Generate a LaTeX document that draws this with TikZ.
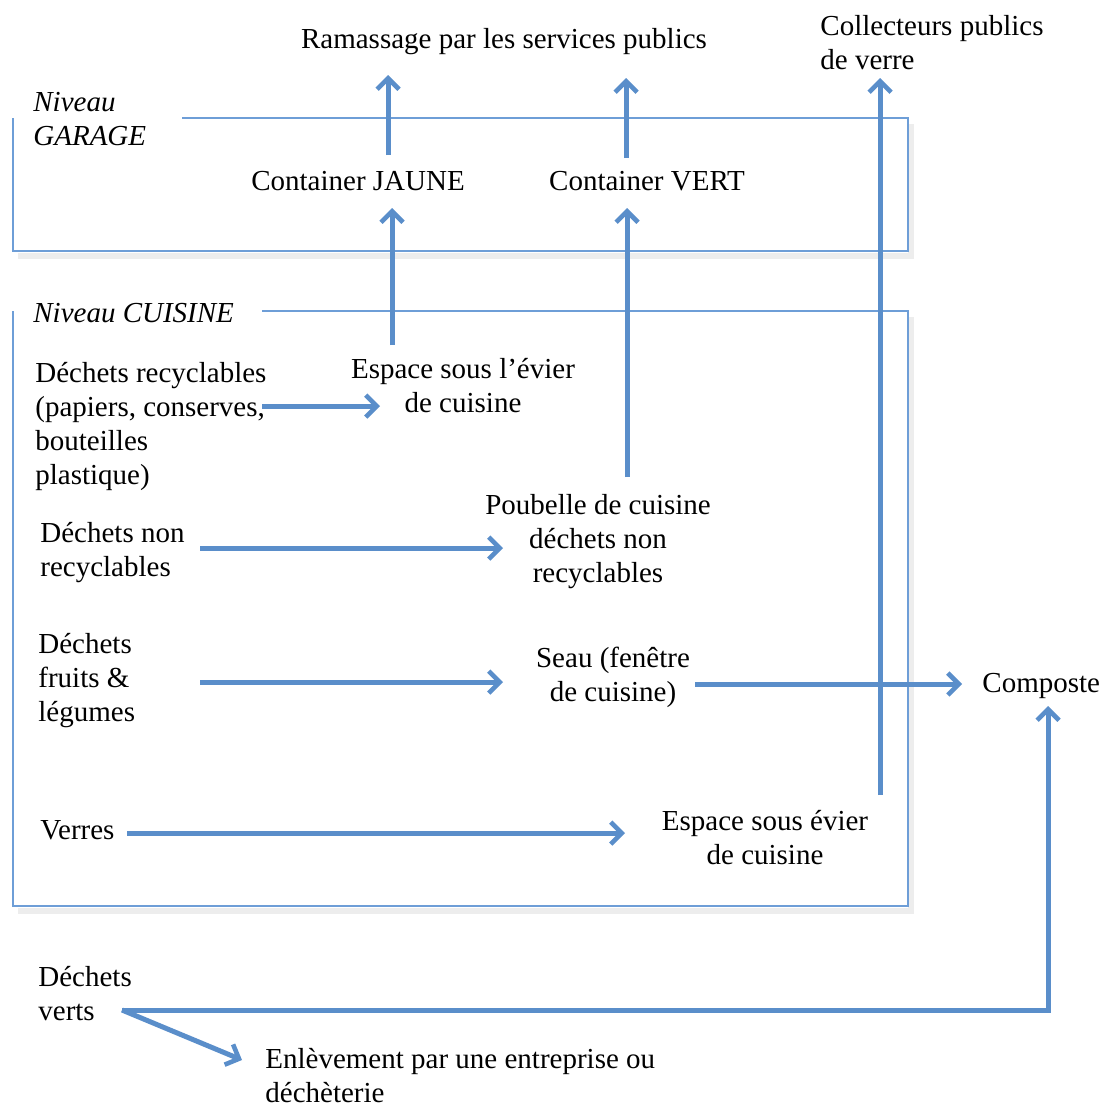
\documentclass[tikz,border=0pt]{standalone}
\usepackage{fontspec}
\setmainfont{Liberation Serif}
\usetikzlibrary{arrows.meta}
\definecolor{arrblue}{RGB}{90,142,202}
\definecolor{boxblue}{RGB}{110,158,215}
\begin{document}
\begin{tikzpicture}[x=0.5pt,y=-0.5pt,
  txt/.style={inner sep=0pt,font=\fontsize{14.5}{17}\selectfont},
  ltxt/.style={txt,anchor=west,align=left},
  ctxt/.style={txt,align=center},
  itxt/.style={ltxt,font=\fontsize{14.5}{17}\selectfont\itshape},
  arr/.style={draw=arrblue,line width=2.5pt,-{Straight Barb[length=5.5pt,width=11pt,line width=2.3pt]}},
  frame/.style={draw=boxblue,line width=0.75pt},
  shade/.style={draw=black!7,line width=3pt}]
\useasboundingbox (0,0) rectangle (1103,1103);
% shadows
\draw[shade] (18,256) -- (911,256) -- (911,124);
\draw[shade] (18,911) -- (911,911) -- (911,317);
% frames
\draw[frame] (182,118) -- (908,118) -- (908,251) -- (13,251) -- (13,118);
\draw[frame] (262,311) -- (908,311) -- (908,906) -- (13,906) -- (13,311);
% texts
\node[ctxt] (ram) at (504,42) {Ramassage par les services publics};
\node[ltxt] (coll) at (820,43) {Collecteurs publics\\de verre};
\node[itxt] (ngar) at (33,119) {Niveau\\GARAGE};
\node[ctxt] (jaune) at (358,181) {Container JAUNE};
\node[ctxt] (vert) at (647,181) {Container VERT};
\node[itxt] (ncui) at (33,313) {Niveau CUISINE};
\node[ctxt] (evier) at (463,386) {Espace sous l’évier\\de cuisine};
\node[ltxt] (recy) at (35,426) {Déchets recyclables\\(papiers, conserves,\\bouteilles\\plastique)};
\node[ltxt] (nonrec) at (40,553) {Déchets non\\recyclables};
\node[ctxt] (poub) at (598,542) {Poubelle de cuisine\\déchets non\\recyclables};
\node[ltxt] (fruits) at (38,681) {Déchets\\fruits \&\\légumes};
\node[ctxt] (seau) at (613,677) {Seau (fenêtre\\de cuisine)};
\node[ltxt] (compost) at (982,686) {Composte};
\node[ltxt] (verres) at (40,830) {Verres};
\node[ctxt] (evier2) at (765,838) {Espace sous évier\\de cuisine};
\node[ltxt] (verts) at (38,994) {Déchets\\verts};
\node[ltxt] (enlev) at (265,1076) {Enlèvement par une entreprise ou\\déchèterie};
% arrows
\draw[arr] ([xshift=15pt,yshift=13pt]jaune.center) -- ([xshift=-58pt,yshift=-16.5pt]ram.center);
\draw[arr] ([xshift=-10.5pt,yshift=11.5pt]vert.center) -- ([xshift=61pt,yshift=-18pt]ram.center);
\draw[arr] ([xshift=57.5pt,yshift=21.5pt]evier2.center) -- ([xshift=30pt,yshift=-17.5pt]coll.west);
\draw[arr] ([xshift=-35.5pt,yshift=20.5pt]evier.center) -- ([xshift=17pt,yshift=-13.5pt]jaune.center);
\draw[arr] ([xshift=14.5pt,yshift=32.5pt]poub.center) -- ([xshift=-10pt,yshift=-13.5pt]vert.center);
\draw[arr] ([xshift=113.5pt,yshift=10pt]recy.west) -- ([xshift=-41.5pt,yshift=-10pt]evier.center);
\draw[arr] ([xshift=80pt,yshift=2.5pt]nonrec.west) -- ([xshift=-47.5pt,yshift=-3pt]poub.center);
\draw[arr] ([xshift=81pt,yshift=-0.5pt]fruits.west) -- ([xshift=-55pt,yshift=-2.5pt]seau.center);
\draw[arr] ([xshift=41pt,yshift=-3.5pt]seau.center) -- ([xshift=-10pt,yshift=1pt]compost.west);
\draw[arr] ([xshift=43.5pt,yshift=-1.5pt]verres.west) -- ([xshift=-70pt,yshift=2.5pt]evier2.center);
\draw[arr] ([xshift=42pt,yshift=-8pt]verts.west) -| ([xshift=33pt,yshift=-10pt]compost.west);
\draw[arr] ([xshift=42pt,yshift=-8pt]verts.west) -- ([xshift=-11.5pt,yshift=8pt]enlev.west);
\end{tikzpicture}
\end{document}
